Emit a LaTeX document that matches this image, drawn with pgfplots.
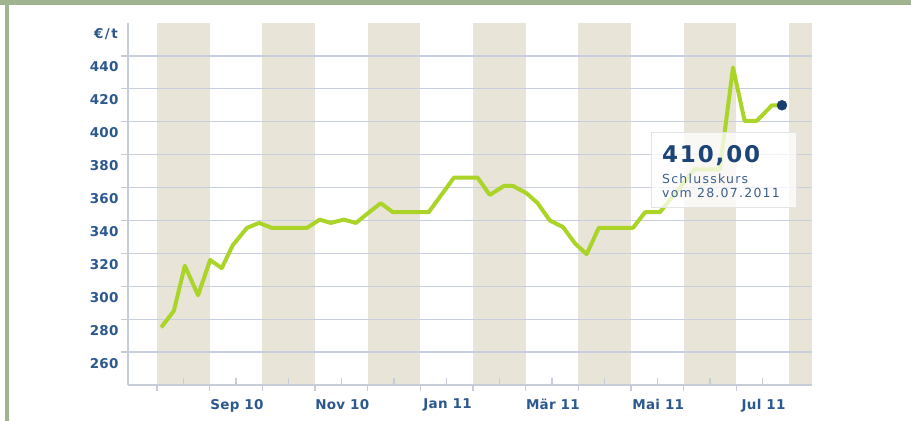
\documentclass[border=0pt]{standalone}
\usepackage{pgfplots}
\pgfplotsset{compat=1.18}
\usepackage{fontspec}
\setmainfont{DejaVu Sans}
\newfontfamily\labfont[LetterSpace=2]{DejaVu Sans}
\newfontfamily\tipfont[LetterSpace=8]{DejaVu Sans}
\newfontfamily\subfont[LetterSpace=10]{DejaVu Sans}
\definecolor{band}{RGB}{233,228,216}
\definecolor{gridcol}{RGB}{200,206,221}
\definecolor{axiscol}{RGB}{198,204,216}
\definecolor{labcol}{RGB}{44,88,142}
\definecolor{linecol}{RGB}{170,212,40}
\definecolor{dotcol}{RGB}{28,62,110}
\definecolor{framecol}{RGB}{160,180,143}
\definecolor{bigcol}{RGB}{28,68,118}
\definecolor{subcol}{RGB}{60,96,142}
\definecolor{boxborder}{RGB}{228,228,228}
\begin{document}
\begin{tikzpicture}
\path (0,0) rectangle (911bp,421bp);
\fill[framecol] (0,415.5bp) rectangle (911bp,421bp);
\fill[framecol] (5bp,0) rectangle (9bp,421bp);
\begin{axis}[
  set layers,
  at={(128bp,36bp)}, anchor=south west,
  scale only axis, width=684bp, height=362bp,
  xmin=-0.55, xmax=12.44, ymin=240, ymax=460,
  axis x line*=bottom, axis y line*=left,
  axis line style={draw=axiscol, line width=1.6bp, -},
  tick style={draw=axiscol, line width=1.3bp},
  tick align=inside, major tick length=7bp,
  ytick style={xshift=-7bp},
  ytick={260,280,...,440},
  ymajorgrids, grid style={draw=gridcol, line width=1.2bp},
  xtick={0.5,1.5,...,11.5},
  xticklabels={,Sep 10,,Nov 10,,Jan 11,,Mär 11,,Mai 11,,Jul 11},
  extra x ticks={0,1,...,11},
  extra x tick labels={},
  extra x tick style={yshift=-6bp},
  /pgf/number format/assume math mode=true,
  ticklabel style={font=\labfont\bfseries\fontsize{13.5bp}{16bp}\selectfont, text=labcol},
  yticklabel style={xshift=-6bp, yshift=-11bp},
  xticklabel style={yshift=-10.5bp, xshift=1bp},
  clip=false,
]
\begin{pgfonlayer}{axis background}
\fill[band] (axis cs:0,240) rectangle (axis cs:1,460);
\fill[band] (axis cs:2,240) rectangle (axis cs:3,460);
\fill[band] (axis cs:4,240) rectangle (axis cs:5,460);
\fill[band] (axis cs:6,240) rectangle (axis cs:7,460);
\fill[band] (axis cs:8,240) rectangle (axis cs:9,460);
\fill[band] (axis cs:10,240) rectangle (axis cs:11,460);
\fill[band] (axis cs:12,240) rectangle (axis cs:12.44,460);
\end{pgfonlayer}
\addplot[linecol, line width=4bp, line join=round] coordinates {
(0.08,275) (0.32,285) (0.53,312.5) (0.78,294.5) (1.01,316) (1.23,311)
(1.44,325) (1.71,335.5) (1.94,338.5) (2.18,335.5) (2.85,335.5)
(3.09,340.5) (3.30,338.5) (3.55,340.5) (3.78,338.5) (4.03,345)
(4.25,350.5) (4.48,345) (5.16,345) (5.64,366) (6.09,366)
(6.32,355.5) (6.59,361) (6.76,361) (7.02,356.5) (7.23,350.5)
(7.46,340) (7.71,336) (7.94,326) (8.16,319.5) (8.39,335.5)
(9.04,335.5) (9.27,345) (9.55,345) (10.21,371) (10.69,371)
(10.94,433) (11.16,400.5) (11.39,400.5) (11.68,410) (11.87,410)
};
\addplot[only marks, mark=*, mark size=5bp, mark options={fill=dotcol, draw=dotcol}] coordinates {(11.87,410)};
\draw[draw=boxborder, line width=1bp, fill=white, fill opacity=0.75] (axis cs:9.40,347.6) rectangle (axis cs:12.15,393.5);
\node[anchor=base west, inner sep=0, text=bigcol, font=\tipfont\bfseries\fontsize{23bp}{27bp}\selectfont] at (axis cs:9.59,375.1) {410,00};
\node[anchor=base west, inner sep=0, text=subcol, font=\subfont\fontsize{12.5bp}{15bp}\selectfont] at (axis cs:9.59,362.5) {Schlusskurs};
\node[anchor=base west, inner sep=0, text=subcol, font=\subfont\fontsize{12.5bp}{15bp}\selectfont] at (axis cs:9.59,353.7) {vom 28.07.2011};
\node[anchor=east, inner sep=0, text=labcol, font=\labfont\bfseries\fontsize{13.5bp}{16bp}\selectfont] at ([xshift=-10bp,yshift=-11bp]rel axis cs:0,1) {€\kern1.5bp/\kern1.5bp t};
\end{axis}
\end{tikzpicture}
\end{document}
